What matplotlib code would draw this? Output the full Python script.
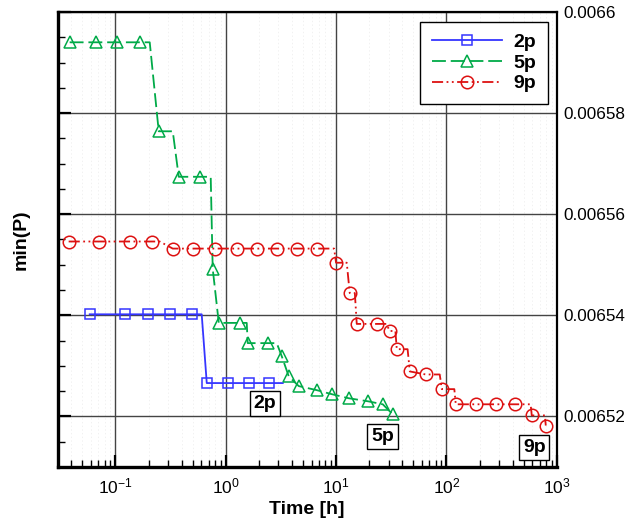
import matplotlib
matplotlib.use("Agg")
import matplotlib.pyplot as plt
from matplotlib.lines import Line2D
from matplotlib.ticker import MultipleLocator, FuncFormatter, LogLocator
import numpy as np

plt.rcParams['font.family'] = ['Liberation Sans', 'DejaVu Sans']
plt.rcParams['mathtext.fontset'] = 'custom'
plt.rcParams['mathtext.rm'] = 'Liberation Sans'
plt.rcParams['lines.scale_dashes'] = False

# series vertices (time [h], min(P)); mark_* = indices that carry a marker
t_2p = [0.0585, 0.1214, 0.1963, 0.3106, 0.4917, 0.6056, 0.673, 1.043, 1.617, 2.455, 3.29]
p_2p = [0.0065402, 0.0065402, 0.0065402, 0.0065402, 0.0065402, 0.0065402,
        0.0065266, 0.0065266, 0.0065266, 0.0065266, 0.0065266]
mark_2p = [0, 1, 2, 3, 4, 6, 7, 8, 9]

t_5p = [0.0385, 0.0662, 0.1027, 0.166, 0.2047, 0.247, 0.331, 0.375, 0.581, 0.731,
        0.762, 0.865, 1.339, 1.550, 1.582, 2.40, 2.90, 3.22, 3.73, 4.59,
        6.68, 9.14, 13.0, 19.4, 26.5, 32.7]
p_5p = [0.006594, 0.006594, 0.006594, 0.006594, 0.006594, 0.0065764, 0.0065764, 0.0065674, 0.0065674, 0.0065674,
        0.0065492, 0.0065385, 0.0065385, 0.0065385, 0.0065345, 0.0065345, 0.0065345, 0.0065319, 0.0065279, 0.006526,
        0.0065252, 0.0065244, 0.0065236, 0.006523, 0.0065224, 0.0065204]
mark_5p = [0, 1, 2, 3, 5, 7, 8, 10, 11, 12, 14, 15, 17, 18, 19, 20, 21, 22, 23, 24, 25]

t_9p = [0.0377, 0.0706, 0.1348, 0.2134, 0.252, 0.331, 0.502, 0.795, 1.258, 1.910,
        2.90, 4.40, 6.68, 9.6, 10.0, 12.5, 13.3, 14.8, 15.4, 23.4,
        28.5, 30.7, 34.5, 35.5, 44.5, 46.6, 65.0, 87.0, 90.9, 118.0,
        121.6, 184.7, 280.0, 417.0, 580.0, 594.0, 780.0, 796.0]
p_9p = [0.0065546, 0.0065546, 0.0065546, 0.0065546, 0.0065546, 0.0065532, 0.0065532, 0.0065532, 0.0065532, 0.0065532,
        0.0065532, 0.0065532, 0.0065532, 0.0065532, 0.0065504, 0.0065504, 0.0065444, 0.0065444, 0.0065383, 0.0065383,
        0.0065383, 0.0065369, 0.0065369, 0.0065333, 0.0065333, 0.0065289, 0.0065283, 0.0065283, 0.0065254, 0.0065254,
        0.0065224, 0.0065224, 0.0065224, 0.0065224, 0.0065224, 0.0065202, 0.0065202, 0.0065182]
mark_9p = [0, 1, 2, 3, 5, 6, 7, 8, 9, 10, 11, 12, 14, 16, 18, 19, 21, 23, 25, 26,
           28, 30, 31, 32, 33, 35, 37]

labels = ['2p', '5p', '9p']
tags_t = [2.26, 26.5, 626.0]
tags_p = [0.0065225, 0.0065161, 0.0065138]

blue = '#3535ff'
green = '#00aa48'
red = '#dd1111'
dash_5p = (0, (10, 3.5))
dash_9p = (0, (8, 2.5, 1.3, 2.5, 1.3, 2.5))

fig = plt.figure(figsize=(6.28, 5.25), dpi=100)
ax = fig.add_axes([0.0919, 0.1105, 0.7946, 0.8667])

series = [
    (t_2p, p_2p, mark_2p, blue, '-', 's', 7),
    (t_5p, p_5p, mark_5p, green, dash_5p, '^', 9),
    (t_9p, p_9p, mark_9p, red, dash_9p, 'o', 9),
]
handles = []
for t, p, m, c, ls, mk, ms in series:
    t = np.array(t)
    p = np.array(p)
    ax.plot(t, p, color=c, ls=ls, lw=1.3, zorder=3)
    ax.plot(t[m], p[m], ls='none', marker=mk, ms=ms, mfc='none', mec=c, mew=1.1, zorder=4)
    handles.append(Line2D([], [], color=c, ls=ls, lw=1.3, marker=mk, ms=ms,
                          mfc='none', mec=c, mew=1.1))

for lab, x, y in zip(labels, tags_t, tags_p):
    ax.text(x, y, lab, fontsize=14, fontweight='bold', ha='center', va='center', zorder=5,
            bbox=dict(boxstyle='square,pad=0.2', fc='white', ec='black', lw=1))

ax.set_xscale('log')
ax.set_xlim(0.03, 1000)
ax.set_ylim(0.00651, 0.0066)
ax.xaxis.set_major_locator(LogLocator(base=10, numticks=10))
ax.xaxis.set_minor_locator(LogLocator(base=10, subs=np.arange(2, 10), numticks=20))
ax.yaxis.set_major_locator(MultipleLocator(0.00002))
ax.yaxis.set_minor_locator(MultipleLocator(0.000005))
ax.yaxis.set_major_formatter(FuncFormatter(lambda v, pos: '%g' % round(v, 7)))

ax.grid(which='major', color='#444444', lw=1.0, zorder=1)
ax.grid(which='minor', axis='x', color='#ececec', lw=0.5, ls=':', zorder=1)

ax.yaxis.set_ticks_position('left')
ax.xaxis.set_ticks_position('bottom')
ax.tick_params(axis='y', which='both', direction='in', labelleft=False, labelright=True,
               labelsize=12.3, pad=5)
ax.tick_params(axis='x', which='both', direction='in', labelsize=12.5, pad=7)
ax.tick_params(which='major', length=9, width=1.6)
ax.tick_params(which='minor', length=5, width=1.0)

for side in ['left', 'bottom']:
    ax.spines[side].set_linewidth(2.4)
for side in ['top', 'right']:
    ax.spines[side].set_linewidth(1.6)

ax.set_xlabel('Time [h]', fontsize=14, fontweight='bold', labelpad=3)
ax.set_ylabel('min(P)', fontsize=14, fontweight='bold', labelpad=20)

leg = ax.legend(handles, labels, loc='upper right', bbox_to_anchor=(0.9826, 0.978),
                borderaxespad=0, fancybox=False, framealpha=1, edgecolor='black',
                prop={'weight': 'bold', 'size': 14}, handlelength=3.6, handletextpad=0.6,
                labelspacing=0.15, borderpad=0.6)
leg.get_frame().set_linewidth(1.0)
leg.set_zorder(6)

fig.savefig('out.png', dpi=100)
